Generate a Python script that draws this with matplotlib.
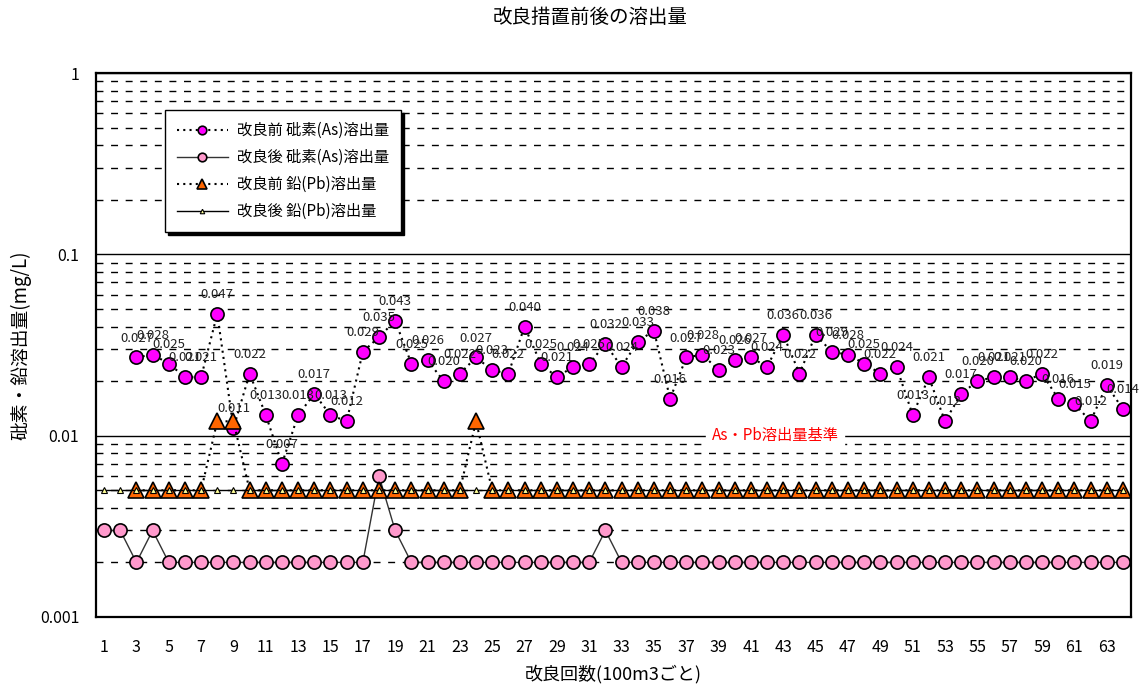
import numpy as np
import matplotlib.pyplot as plt
from matplotlib.ticker import LogLocator, NullFormatter, FixedLocator, FixedFormatter

plt.rcParams['font.family'] = ['Noto Sans CJK JP', 'DejaVu Sans']

# 改良回数 (100m3ごと)
n = np.arange(1, 65)

# 改良前 砒素(As)溶出量 : 3回目から
as_before_x = np.arange(3, 65)
as_before = [0.027, 0.028, 0.025, 0.021, 0.021, 0.047, 0.011, 0.022, 0.013, 0.007,
             0.013, 0.017, 0.013, 0.012, 0.029, 0.035, 0.043, 0.025, 0.026, 0.020,
             0.022, 0.027, 0.023, 0.022, 0.040, 0.025, 0.021, 0.024, 0.025, 0.032,
             0.024, 0.033, 0.038, 0.016, 0.027, 0.028, 0.023, 0.026, 0.027, 0.024,
             0.036, 0.022, 0.036, 0.029, 0.028, 0.025, 0.022, 0.024, 0.013, 0.021,
             0.012, 0.017, 0.020, 0.021, 0.021, 0.020, 0.022, 0.016, 0.015, 0.012,
             0.019, 0.014]

# 改良後 砒素(As)溶出量
as_after = [0.003, 0.003, 0.002, 0.003] + [0.002] * 13 + [0.006, 0.003] + [0.002] * 12 \
    + [0.003] + [0.002] * 32

# 改良前 鉛(Pb)溶出量 : 3回目から
pb_before_x = np.arange(3, 65)
pb_before = [0.005] * 5 + [0.012, 0.012] + [0.005] * 14 + [0.012] + [0.005] * 40

# 改良後 鉛(Pb)溶出量
pb_after = [0.005] * 64

limit_value = 0.01

fig = plt.figure(figsize=(11.4, 6.87), dpi=100)
ax = fig.add_axes([0.0842, 0.1019, 0.9079, 0.7918])

ax.plot(as_before_x, as_before, linestyle=(0, (1, 2)), color='black', lw=1.5,
        marker='o', ms=9.5, mfc='#FF00FF', mec='black', mew=1.2,
        label='改良前 砒素(As)溶出量')
ax.plot(n, as_after, linestyle='-', color='#333333', lw=1,
        marker='o', ms=9.5, mfc='#FF99CC', mec='black', mew=1.2,
        label='改良後 砒素(As)溶出量')
ax.plot(pb_before_x, pb_before, linestyle=(0, (1, 2)), color='black', lw=1.5,
        marker='^', ms=11, mfc='#FF6600', mec='black', mew=1.2,
        label='改良前 鉛(Pb)溶出量')
ax.plot(n, pb_after, linestyle='-', color='black', lw=1,
        marker='^', ms=5, mfc='#FFFF99', mec='black', mew=0.8,
        label='改良後 鉛(Pb)溶出量')

# 改良前Asの値ラベル
for x, v in zip(as_before_x, as_before):
    ax.annotate(f'{v:.3f}', (x, v), xytext=(0, 14), textcoords='offset points',
                ha='center', va='center', fontsize=9.5, color='#222222')

# 基準値ラベル
ax.text(42.5, limit_value, 'As・Pb溶出量基準', color='#FF0000', fontsize=11,
        ha='center', va='center', backgroundcolor='white', zorder=5)

ax.set_yscale('log')
ax.set_ylim(0.001, 1)
ax.set_xlim(0.5, 64.5)

ax.yaxis.set_major_locator(FixedLocator([0.001, 0.01, 0.1, 1]))
ax.yaxis.set_major_formatter(FixedFormatter(['0.001', '0.01', '0.1', '1']))
ax.yaxis.set_minor_locator(LogLocator(base=10, subs=np.arange(2, 10)))
ax.yaxis.set_minor_formatter(NullFormatter())
ax.set_xticks(np.arange(1, 64, 2))

ax.grid(axis='y', which='major', color='black', lw=1, linestyle='-')
ax.grid(axis='y', which='minor', color='black', lw=1, linestyle=(0, (5, 5.5)))
ax.set_axisbelow(True)

ax.tick_params(axis='both', which='both', length=0, labelsize=11.5)
ax.tick_params(axis='y', pad=12)
ax.tick_params(axis='x', pad=16)

for s in ax.spines.values():
    s.set_linewidth(1.6)
    s.set_color('black')

ax.set_xlabel('改良回数(100m3ごと)', fontsize=13, labelpad=6)
ax.set_ylabel('砒素・鉛溶出量(mg/L)', fontsize=13.5, labelpad=6)
fig.text(0.518, 0.975, '改良措置前後の溶出量', fontsize=14, ha='center', va='center')

leg = ax.legend(loc='upper left', bbox_to_anchor=(0.0667, 0.932), borderaxespad=0,
                fontsize=11, frameon=True, fancybox=False, edgecolor='black',
                shadow={'color': 'black', 'alpha': 1}, handlelength=3.3,
                markerscale=0.65, labelspacing=0.65, borderpad=0.8, handletextpad=0.6)
leg.get_frame().set_linewidth(1)

fig.savefig('out.png', dpi=100)
